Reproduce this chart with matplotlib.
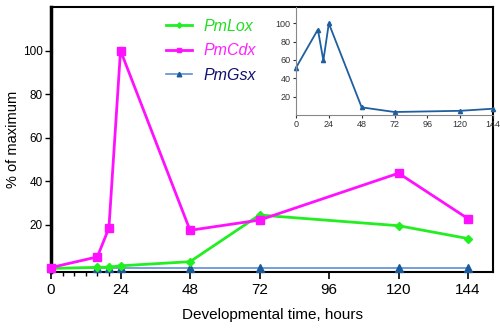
import numpy as np
import matplotlib.pyplot as plt
from matplotlib.ticker import FixedLocator

plt.rcParams['font.family'] = ['Liberation Sans', 'DejaVu Sans']

# main panel data
hours = [0, 16, 20, 24, 48, 72, 120, 144]
lox = [0, 0.5, 0.6, 1.2, 3.1, 24.5, 19.6, 13.7]
cdx = [0.4, 5.3, 18.6, 100, 17.5, 22.2, 43.7, 22.8]
gsx = [0, 0, 0, 0, 0, 0, 0, 0]

# inset data (PmGsx alone)
inset_hours = [0, 16, 20, 24, 48, 72, 120, 144]
inset_gsx = [51.5, 93.3, 59.5, 100, 8.2, 3.1, 4.4, 6.7]

series_names = ['PmLox', 'PmCdx', 'PmGsx']
x_ticks = [0, 24, 48, 72, 96, 120, 144]
y_ticks = [20, 40, 60, 80, 100]

fig = plt.figure(figsize=(5, 3.3), dpi=100)
ax = fig.add_axes([0.102, 0.176, 0.884, 0.803])

l_gsx, = ax.plot(hours, gsx, color='#5b8fd6', lw=1.2, marker='^', ms=5.5,
                 mfc='#1a5a9a', mec='#1a5a9a', clip_on=False, zorder=3)
l_lox, = ax.plot(hours, lox, color='#22ee22', lw=2, marker='D', ms=4.5,
                 clip_on=False, zorder=4)
l_cdx, = ax.plot(hours, cdx, color='#ff11ff', lw=2, marker='s', ms=6,
                 clip_on=False, zorder=5)

ax.set_xlim(0, 152.6)
ax.set_ylim(-1.6, 120)
ax.set_xticks(x_ticks)
ax.xaxis.set_minor_locator(FixedLocator([4, 8, 12, 16, 20]))
ax.set_yticks(y_ticks)
ax.tick_params(axis='x', labelsize=11, length=5, width=1.2, pad=3)
ax.tick_params(axis='x', which='minor', length=3, width=1)
ax.tick_params(axis='y', labelsize=8.5, length=4, width=1, pad=2)
for s in ['top', 'right', 'bottom']:
    ax.spines[s].set_linewidth(1.5)
ax.spines['left'].set_linewidth(2.5)

ax.set_xlabel('Developmental time, hours', fontsize=11, labelpad=8)
ax.set_ylabel('% of maximum', fontsize=10.5, labelpad=2)

# legend
leg = ax.legend([l_lox, l_cdx, l_gsx], series_names, loc='upper left',
                bbox_to_anchor=(0.243, 0.985), borderpad=0,
                frameon=False, fontsize=11.5, handlelength=1.6,
                handletextpad=0.7, labelspacing=0.6, markerscale=0.6)
text_colors = ['#22dd22', '#ff22ff', '#101070']
for t, c in zip(leg.get_texts(), text_colors):
    t.set_color(c)
    t.set_style('italic')

# inset
ins = fig.add_axes([0.592, 0.652, 0.394, 0.327])
ins.patch.set_visible(False)
ins.plot(inset_hours, inset_gsx, color='#1f5f9f', lw=1.3, marker='^', ms=3,
         clip_on=False)
ins.set_xlim(0, 141)
ins.set_ylim(0, 118)
ins.set_xticks(x_ticks)
ins.set_yticks(y_ticks)
ins.tick_params(labelsize=6.5, length=2.5, width=0.8, pad=1.5, colors='#333333')
ins.spines['top'].set_visible(False)
ins.spines['right'].set_visible(False)
ins.spines['left'].set_color('#888888')
ins.spines['bottom'].set_color('#888888')

fig.savefig('out.png', dpi=100)
